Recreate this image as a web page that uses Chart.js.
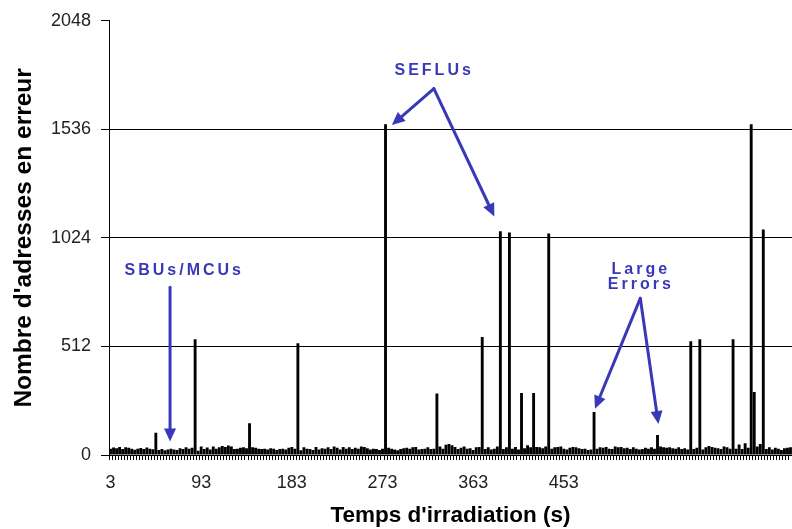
<!DOCTYPE html>
<html>
<head>
<meta charset="utf-8">
<script src="https://cdn.jsdelivr.net/npm/chart.js@4.4.0/dist/chart.umd.min.js"></script>
<style>
  body { margin: 0; background: #fff; }
</style>
</head>
<body>
<canvas id="chart" width="792" height="529"></canvas>
<script>
// temps d'irradiation: one bar every 3 s, starting at 3 s
const times = [];
for (let t = 3; t <= 678; t += 3) times.push(t);

// nombre d'adresses en erreur
const errors = [
  30, 35, 32, 38, 28, 36, 34, 30, 25, 30, 33, 28, 35, 30, 27,
  105,
  24, 28, 22, 26, 30, 26, 24, 32, 28, 36, 30, 34,
  546,
  20, 40, 28, 35, 26, 40, 30, 36, 42, 38, 45, 40, 28, 30, 34, 36, 32,
  150,
  36, 34, 30, 28, 30, 26, 32, 30, 24, 28, 30, 26, 34, 38, 30,
  527,
  22, 36, 30, 28, 24, 38, 26, 32, 30, 36, 28, 40, 34, 26, 38, 30, 36, 28, 34, 30,
  40, 38, 32, 26, 30, 28, 24, 30,
  1560,
  34, 30, 26, 22, 28, 32, 34, 30, 36, 38, 26, 28, 30, 36, 28, 30,
  290,
  40, 30, 48, 52, 46, 38, 28, 34, 40, 30, 32, 24, 36, 38,
  556,
  28, 36, 26, 30, 40,
  1055,
  28, 36,
  1050,
  30, 38, 26,
  292,
  32, 46, 36,
  292,
  38, 36, 32, 40,
  1045,
  30, 36, 38, 40, 30, 26, 34, 38, 36, 32, 28, 30, 24, 26,
  203,
  30, 36, 34, 38, 30, 28, 40, 36, 38, 32, 34, 28, 36, 30, 26, 28, 34, 30, 36, 30,
  94,
  40, 36, 34, 36, 32, 30, 36, 28, 32, 26,
  537,
  28, 34,
  546,
  26, 36, 42, 38, 34, 32, 28, 40, 36, 30,
  546,
  30, 50, 28, 56, 34,
  1560,
  297,
  40, 52,
  1064,
  28, 36, 26, 34, 30, 24, 32, 34, 36
];

const yTicks = [0, 512, 1024, 1536, 2048];
const labelEvery = 30;
const lastLabelled = 150;

// annotations, positioned in data units: [bar index, value]
const notes = [
  { lines: ['SEFLUs'], at: [106.6, 1813], from: [107, 1728], to: [[93.1, 1556], [127, 1125]] },
  { lines: ['SBUs/MCUs'], at: [23.9, 871], from: [19.7, 791], to: [[19.7, 64]] },
  { lines: ['Large', 'Errors'], at: [175, 841], from: [175.3, 739], to: [[160.3, 218], [181.3, 146]] }
];

const BLUE = '#3838b8';
const FONT = '"Liberation Sans", Arial, sans-serif';

function arrow(c, x0, y0, x1, y1) {
  const ang = Math.atan2(y1 - y0, x1 - x0);
  const head = 13;
  const bx = x1 - head * Math.cos(ang);
  const by = y1 - head * Math.sin(ang);
  c.beginPath();
  c.moveTo(x0, y0);
  c.lineTo(bx, by);
  c.stroke();
  c.beginPath();
  c.moveTo(x1, y1);
  c.lineTo(bx + 6 * Math.sin(ang), by - 6 * Math.cos(ang));
  c.lineTo(bx - 6 * Math.sin(ang), by + 6 * Math.cos(ang));
  c.closePath();
  c.fill();
}

const notesPlugin = {
  id: 'notes',
  afterDraw(chart) {
    const c = chart.ctx;
    const xs = chart.scales.x, ys = chart.scales.y;
    c.save();
    c.strokeStyle = BLUE;
    c.fillStyle = BLUE;
    c.lineWidth = 3;
    c.lineCap = 'round';
    c.font = 'bold 16px ' + FONT;
    c.letterSpacing = '3px';
    c.textAlign = 'center';
    c.textBaseline = 'middle';
    notes.forEach(n => {
      const tx = xs.getPixelForValue(n.at[0]);
      const ty = ys.getPixelForValue(n.at[1]);
      n.lines.forEach((s, i) => c.fillText(s, tx + 1.5, ty + i * 15 - (n.lines.length - 1) * 7.5));
      const fx = xs.getPixelForValue(n.from[0]), fy = ys.getPixelForValue(n.from[1]);
      n.to.forEach(p => arrow(c, fx, fy, xs.getPixelForValue(p[0]), ys.getPixelForValue(p[1])));
    });
    c.restore();
  }
};

new Chart(document.getElementById('chart'), {
  type: 'bar',
  data: {
    labels: times,
    datasets: [{
      data: errors,
      backgroundColor: '#000',
      borderWidth: 0,
      barPercentage: 0.95,
      categoryPercentage: 1
    }]
  },
  options: {
    responsive: false,
    animation: false,
    layout: { padding: { top: 20, right: 0, left: 0, bottom: 0 } },
    plugins: { legend: { display: false }, tooltip: { enabled: false } },
    scales: {
      x: {
        afterFit: s => { s.height = 74; s.paddingRight = 0; s.paddingLeft = 0; },
        grid: { display: true, drawOnChartArea: false, color: '#000', tickLength: 5, offset: true },
        border: { display: true, color: '#000', width: 1 },
        ticks: {
          autoSkip: false,
          maxRotation: 0,
          padding: 12,
          color: '#222',
          font: { family: FONT, size: 18 },
          callback: (v, i) => (i % labelEvery === 0 && i <= lastLabelled) ? String(times[i]) : ''
        },
        title: {
          display: true,
          text: "Temps d'irradiation (s)",
          color: '#000',
          font: { family: FONT, size: 22.5, weight: 'bold' },
          padding: { top: 0, bottom: 0 }
        }
      },
      y: {
        min: 0,
        max: 2048,
        afterFit: s => { s.width = 109; },
        afterBuildTicks: s => { s.ticks = yTicks.map(v => ({ value: v })); },
        grid: {
          color: ctx => (ctx.tick && ctx.tick.value === 2048) ? 'rgba(0,0,0,0)' : '#000',
          tickColor: '#000',
          tickLength: 8
        },
        border: { display: true, color: '#000', width: 1 },
        ticks: {
          padding: 10,
          color: '#222',
          font: { family: FONT, size: 18 },
          callback: v => String(v)
        },
        title: {
          display: true,
          text: "Nombre d'adresses en erreur",
          color: '#000',
          font: { family: FONT, size: 24.5, weight: 'bold' },
          padding: { top: 10, bottom: 0 }
        }
      }
    }
  },
  plugins: [notesPlugin]
});
</script>
</body>
</html>
